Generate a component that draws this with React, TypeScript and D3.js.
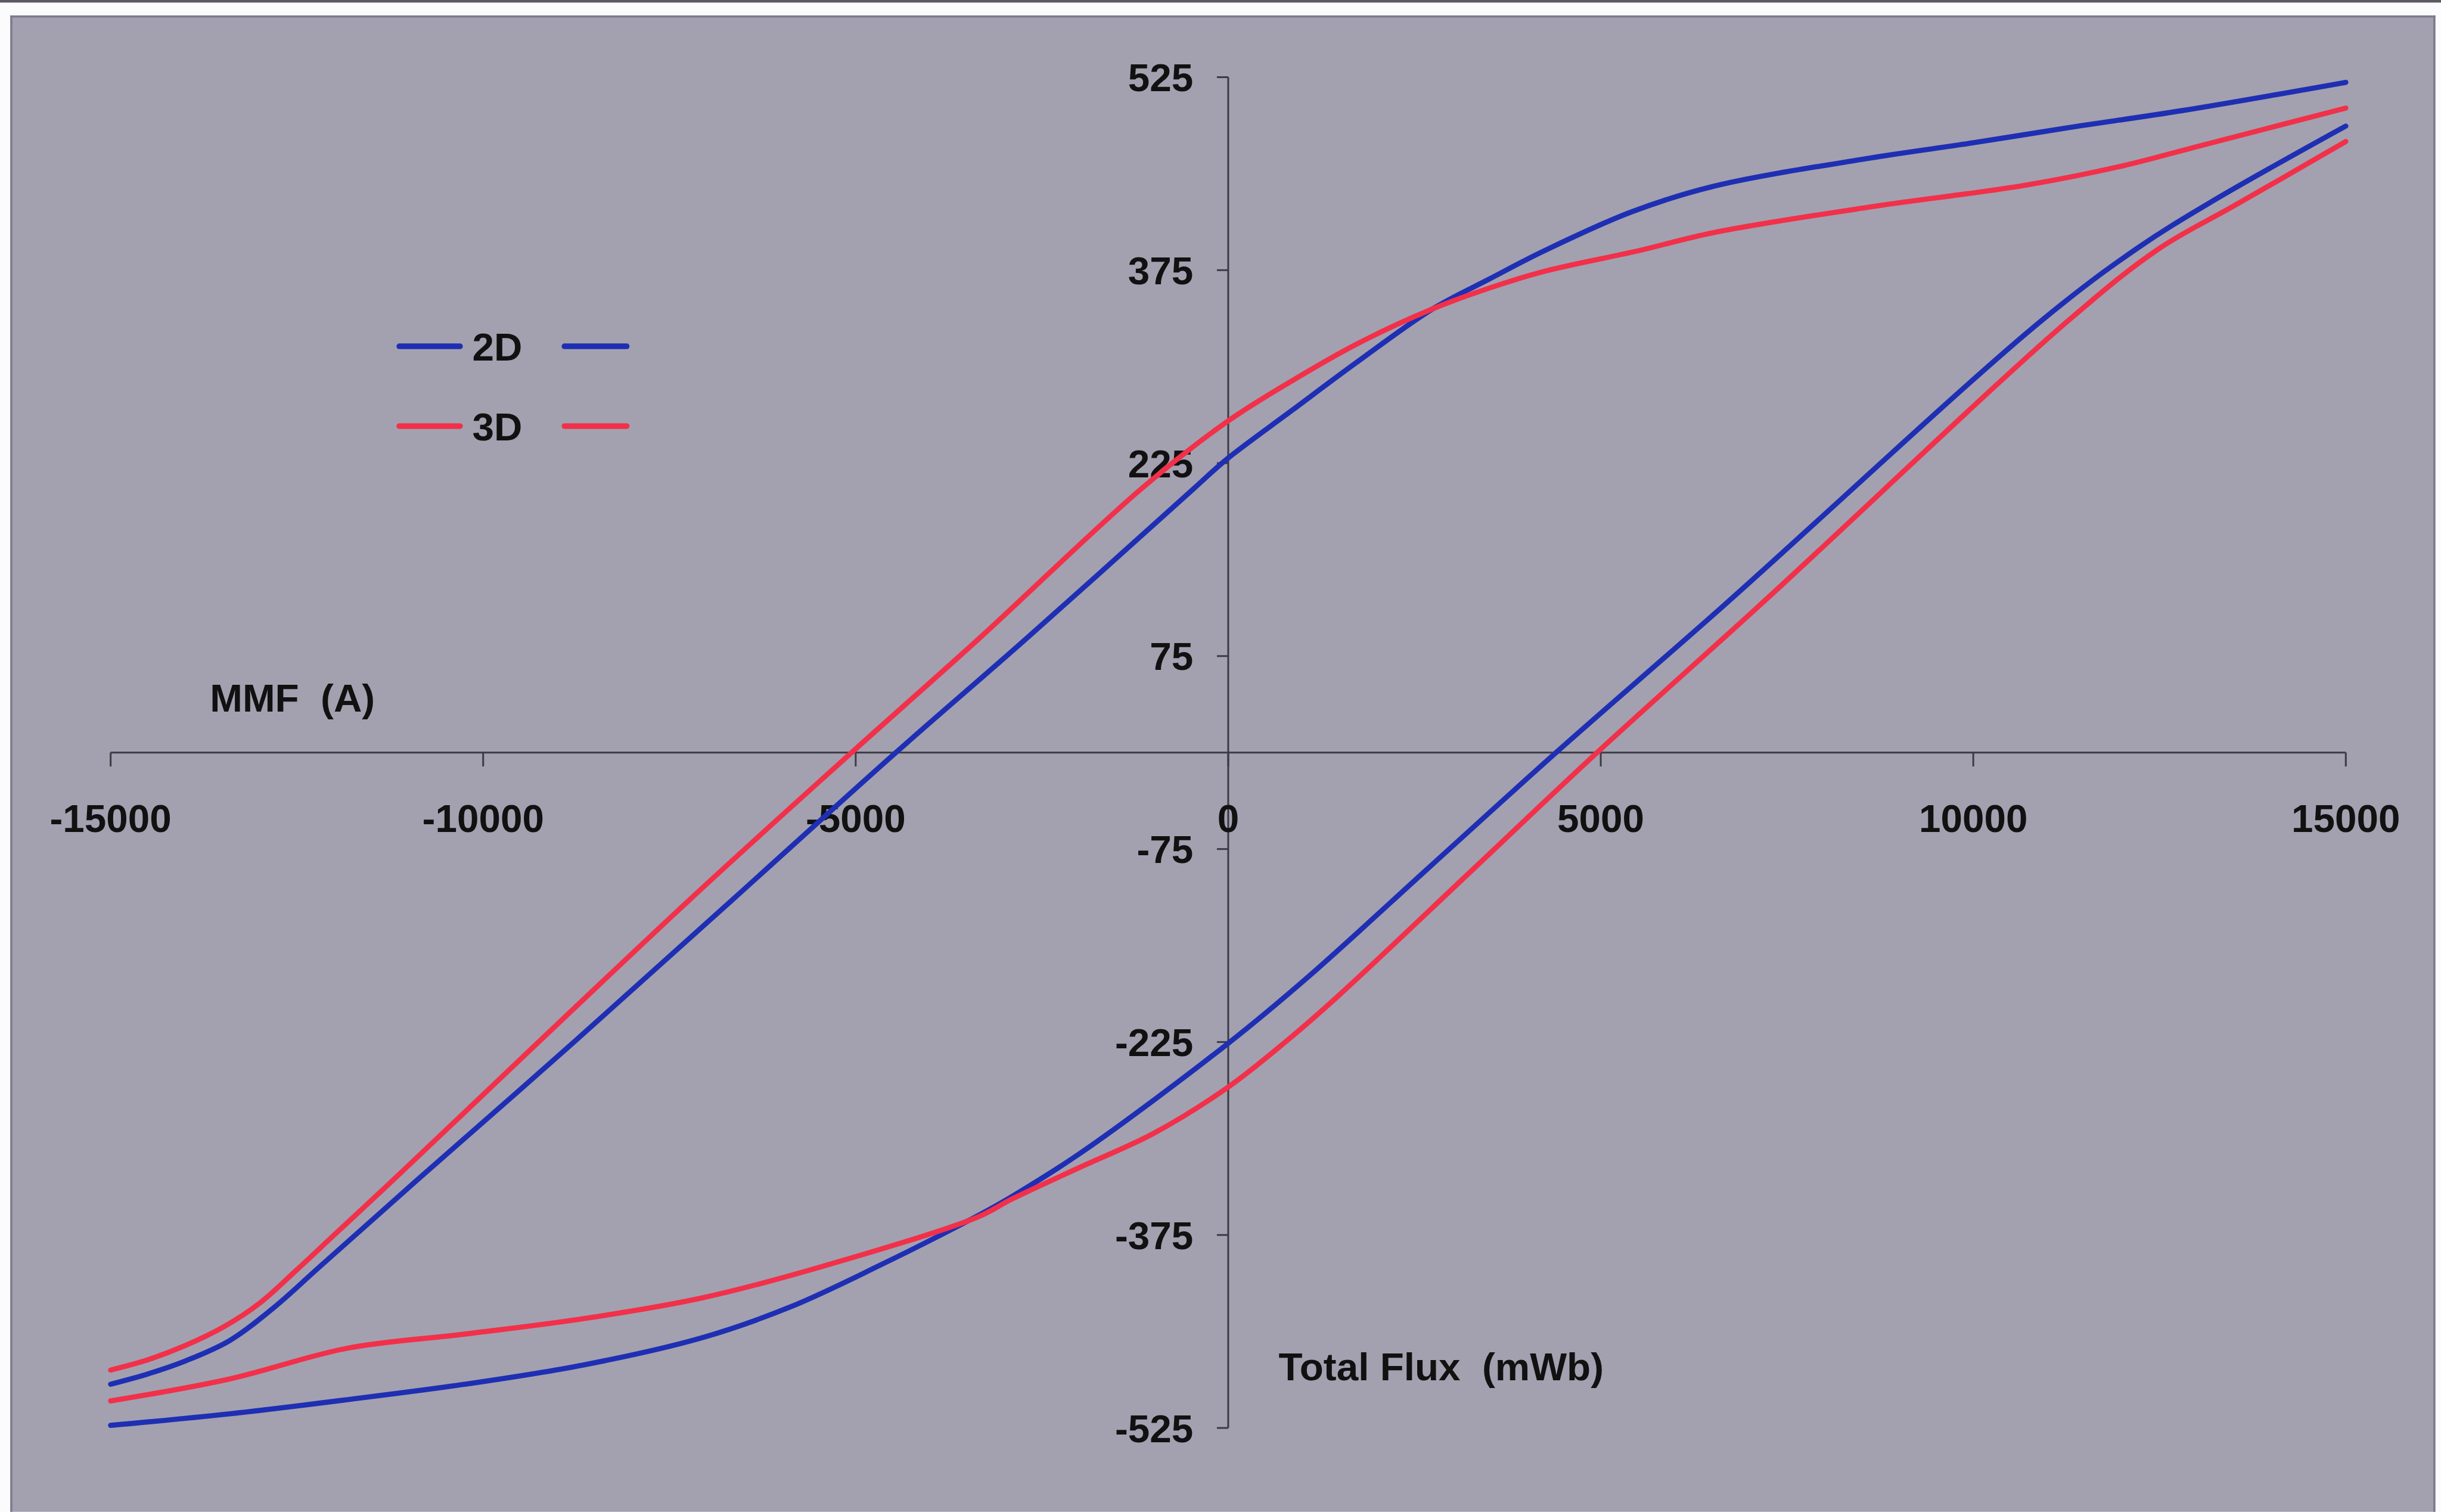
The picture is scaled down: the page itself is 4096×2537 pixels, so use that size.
import React from "react";
import * as d3 from "d3";

// ---- data (flux in mWb, MMF in A) ----
// 2D, descending branch
const flux2DDown = [-15000, -14500, -14000, -13400, -12800, -12200, -10900, -8800, -6665, -4461, -2721, -466, -21, 856, 1740, 2748, 3501, 4240, 5400, 6500, 8600, 10000, 11300, 12800, 15000];
const mmf2DDown = [-491, -483, -473, -457, -431, -400, -333, -226, -115, 0, 88, 205, 228, 266, 304, 345, 368, 390, 420, 440, 462, 474, 486, 499, 521];
// 2D, ascending branch
const flux2DUp = [-15000, -13400, -11820, -10240, -8650, -7070, -5880, -4690, -3360, -2900, -1975, 0, 1060, 2720, 4400, 6665, 10900, 12200, 13220, 15000];
const mmf2DUp = [-523, -514, -503, -491, -476, -455, -431, -399, -360, -345, -311, -226, -175, -88, 0, 115, 335, 392, 429, 487];
// 3D, descending branch
const flux3DDown = [-15000, -14500, -14000, -13500, -13000, -12500, -12000, -11350, -7240, -5055, -3356, -1167, -21, 856, 1740, 2748, 3501, 4240, 5500, 6500, 8600, 10700, 12000, 13000, 15000];
const mmf3DDown = [-480, -472, -461, -447, -428, -402, -375, -340, -115, 0, 88, 205, 257, 289, 318, 345, 361, 374, 390, 404, 424, 441, 456, 471, 501];
// 3D, ascending branch
const flux3DUp = [-15000, -13410, -11820, -10240, -8650, -7070, -5480, -3360, -2900, -1975, -1000, 0, 787, 1480, 3300, 4950, 7200, 11300, 12500, 13500, 15000];
const mmf3DUp = [-504, -487, -463, -452, -440, -424, -400, -361, -347, -322, -296, -260, -224, -189, -90, 0, 118, 337, 392, 425, 475];

const xTicks = [-15000, -10000, -5000, 0, 5000, 10000, 15000];
const yTicks = [525, 375, 225, 75, -75, -225, -375, -525];

const seriesNames = ["2D", "3D"];
const seriesColors = ["#1e2fb4", "#f2304a"];

const S = 4096 / 4744;
const FONT = "'Liberation Sans', Arial, Helvetica, sans-serif";

export default function App() {
  const x = d3.scaleLinear().domain([-15000, 15000]).range([215, 4559]);
  const y = d3.scaleLinear().domain([-525, 525]).range([2775, 150]);
  const line = d3
    .line<[number, number]>()
    .x((d) => x(d[0]))
    .y((d) => y(d[1]))
    .curve(d3.curveCatmullRom.alpha(0.5));

  const zip = (a: number[], b: number[]) => a.map((v, i) => [v, b[i]] as [number, number]);
  const paths = [
    { d: line(zip(flux2DDown, mmf2DDown)), c: seriesColors[0] },
    { d: line(zip(flux2DUp, mmf2DUp)), c: seriesColors[0] },
    { d: line(zip(flux3DDown, mmf3DDown)), c: seriesColors[1] },
    { d: line(zip(flux3DUp, mmf3DUp)), c: seriesColors[1] },
  ];

  const x0 = x(0);
  const y0 = y(0);
  const axisColor = "#3c3a44";
  const fs = 76;

  return (
    <svg
      width={4096}
      height={2537}
      style={{ position: "absolute", left: 0, top: 0, display: "block" }}
    >
      <g transform={`scale(${S})`}>
        <rect x={0} y={0} width={4744} height={2938} fill="#fbfbfd" />
        <rect x={0} y={0} width={4744} height={5} fill="#5d5762" />
        <rect x={20} y={30} width={4713} height={2908} fill="#a3a1af" />
        <rect x={20} y={30} width={4713} height={4} fill="#7c7a8c" />
        <rect x={20} y={30} width={4} height={2908} fill="#7c7a8c" />
        <rect x={4729} y={30} width={4} height={2908} fill="#7c7a8c" />

        {/* axes */}
        <line x1={x(-15000)} x2={x(15000)} y1={y0} y2={y0} stroke={axisColor} strokeWidth={3.5} />
        <line x1={x0} x2={x0} y1={y(525)} y2={y(-525)} stroke={axisColor} strokeWidth={3.5} />
        {xTicks.map((t) => (
          <line key={"xt" + t} x1={x(t)} x2={x(t)} y1={y0} y2={y0 + 27} stroke={axisColor} strokeWidth={3.5} />
        ))}
        {yTicks.map((t) => (
          <line key={"yt" + t} x1={x0 - 22} x2={x0} y1={y(t)} y2={y(t)} stroke={axisColor} strokeWidth={3.5} />
        ))}

        {/* tick labels */}
        {xTicks.map((t) => (
          <text
            key={"xl" + t}
            x={x(t)}
            y={1617}
            textAnchor="middle"
            fontFamily={FONT}
            fontWeight="bold"
            fontSize={fs}
            fill="#111"
          >
            {t}
          </text>
        ))}
        {yTicks.map((t) => (
          <text
            key={"yl" + t}
            x={x0 - 68}
            y={y(t)}
            dy="0.36em"
            textAnchor="end"
            fontFamily={FONT}
            fontWeight="bold"
            fontSize={fs}
            fill="#111"
          >
            {t}
          </text>
        ))}

        {/* axis titles */}
        <text x={408} y={1383} fontFamily={FONT} fontWeight="bold" fontSize={fs} fill="#111" style={{ whiteSpace: "pre" }}>
          {"MMF  (A)"}
        </text>
        <text x={2485} y={2682} fontFamily={FONT} fontWeight="bold" fontSize={fs} fill="#111" style={{ whiteSpace: "pre" }}>
          {"Total Flux  (mWb)"}
        </text>

        {/* data */}
        {paths.map((p, i) => (
          <path key={"p" + i} d={p.d || ""} fill="none" stroke={p.c} strokeWidth={10} strokeLinejoin="round" strokeLinecap="round" />
        ))}

        {/* legend */}
        {seriesNames.map((n, i) => {
          const ly = i === 0 ? 673 : 828;
          return (
            <g key={"lg" + n}>
              <line x1={776} x2={894} y1={ly} y2={ly} stroke={seriesColors[i]} strokeWidth={11} strokeLinecap="round" />
              <text x={918} y={ly + 28} fontFamily={FONT} fontWeight="bold" fontSize={fs} fill="#111">
                {n}
              </text>
              <line x1={1097} x2={1218} y1={ly} y2={ly} stroke={seriesColors[i]} strokeWidth={11} strokeLinecap="round" />
            </g>
          );
        })}
      </g>
    </svg>
  );
}
